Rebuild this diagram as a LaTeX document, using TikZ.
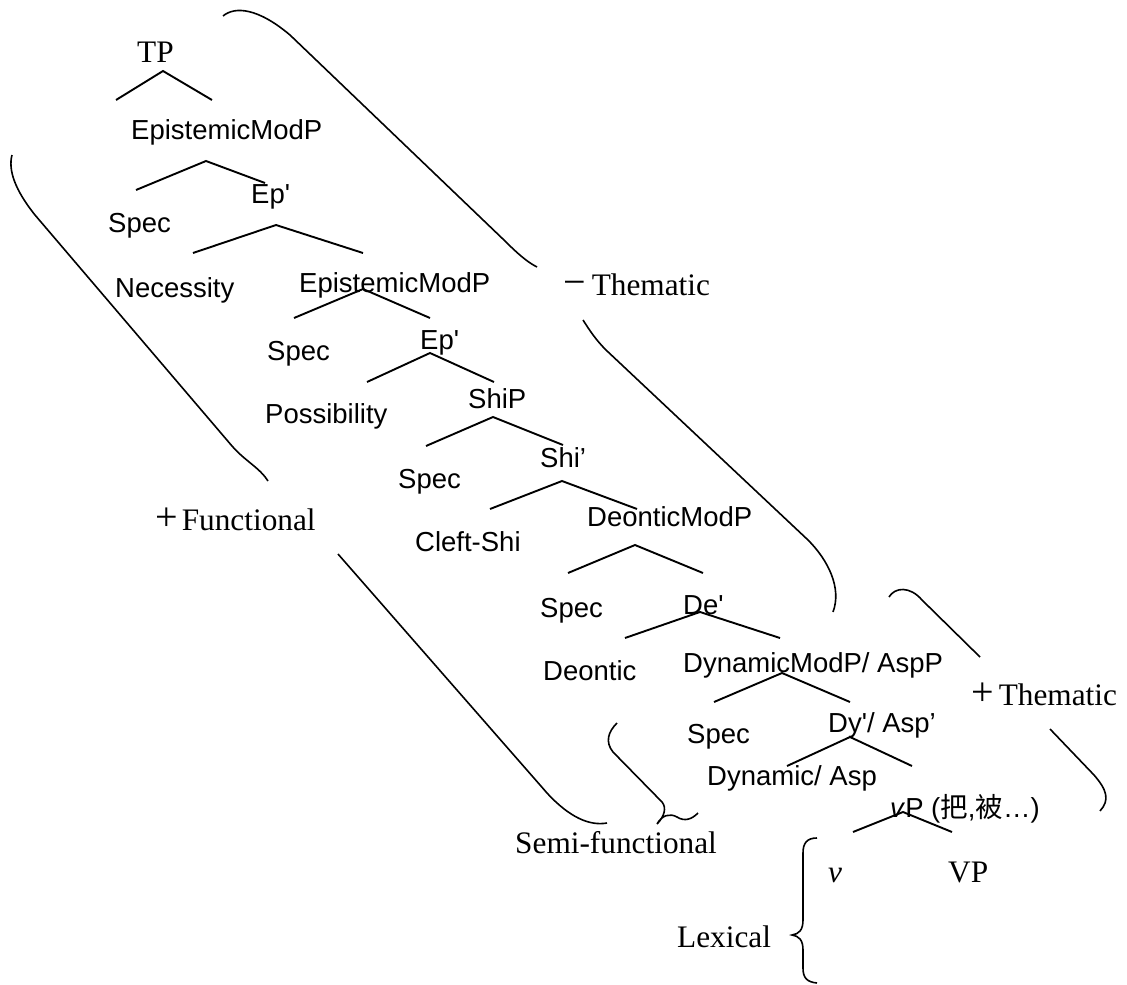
\documentclass[tikz,border=0pt]{standalone}
\usepackage{fontspec}
\setmainfont{Liberation Serif}
\setsansfont{Liberation Sans}
\newfontfamily\cjk{Noto Sans CJK SC}
\newcommand{\sq}{\textquotesingle}
\newcommand{\bigsign}[1]{{\fontsize{40}{40}\selectfont #1}}
\begin{document}
\begin{tikzpicture}[x=1pt,y=-1pt,
  sn/.style={font=\sffamily\fontsize{27.5}{30}\selectfont, inner sep=0pt, anchor=base west},
  rm/.style={font=\rmfamily\fontsize{31.3}{34}\selectfont, inner sep=0pt, anchor=base west},
  branch/.style={line width=1.9pt},
  bracket/.style={line width=1.6pt}]
\useasboundingbox (0,0) rectangle (1127,985);

% ---- labels ----
\node[rm] (tp)     at (137,62)  {TP};
\node[sn] (epm1)   at (131,139) {EpistemicModP};
\node[sn] (epb1)   at (251,203) {Ep\sq};
\node[sn] (spec1)  at (108,232) {Spec};
\node[sn] (nec)    at (115,297) {Necessity};
\node[sn] (epm2)   at (299,292) {EpistemicModP};
\node[sn] (spec2)  at (267,360) {Spec};
\node[sn] (epb2)   at (420,349) {Ep\sq};
\node[sn] (poss)   at (265,423) {Possibility};
\node[sn] (ship)   at (468,408) {ShiP};
\node[sn] (spec3)  at (398,488) {Spec};
\node[sn] (shib)   at (540,467) {Shi’};
\node[sn] (cleft)  at (415,551) {Cleft-Shi};
\node[sn] (deo)    at (587,526) {DeonticModP};
\node[sn] (spec4)  at (540,617) {Spec};
\node[sn] (deb)    at (683,614) {De\sq};
\node[sn] (deontic) at (543,680) {Deontic};
\node[sn] (dyn)    at (683,672) {DynamicModP/ AspP};
\node[sn] (spec5)  at (687,743) {Spec};
\node[sn] (dyb)    at (828,732) {Dy\sq/ Asp’};
\node[sn] (dynasp) at (707,785) {Dynamic/ Asp};
\node[sn] (vp)     at (890,817) {\textit{v}P ({\cjk 把},{\cjk 被}…)};
\node[rm] (v)      at (828,882) {\textit{v}};
\node[rm] (bigvp)  at (948,882) {VP};
\node[rm] (lex)    at (677,947) {Lexical};
\node[rm] (semi)   at (515,853) {Semi-functional};
\node[rm] (func)   at (155,530) {\bigsign{+}\hspace{4pt}Functional};
\node[rm] (mthem)  at (563,295) {\bigsign{−}\hspace{6pt}Thematic};
\node[rm] (pthem)  at (971,705) {\bigsign{+}\hspace{5pt}Thematic};

% ---- tree branches ----
\foreach \n/\ax/\ay/\lx/\ly/\rx/\ry in {
  t1/163/71/116/100/212/100,
  t2/206/161/136/190/265/183,
  t3/276/225/193/253/363/253,
  t4/363/289/294/318/430/318,
  t5/430/353/367/382/494/382,
  t6/493/417/426/446/563/445,
  t7/562/481/490/509/637/509,
  t8/635/545/568/573/703/573,
  t9/700/612/625/638/780/638,
  t10/782/673/714/702/850/702,
  t11/850/737/787/766/912/766,
  t12/903/812/853/832/952/832}{
  \coordinate (\n-a) at (\ax,\ay);
  \coordinate (\n-l) at (\lx,\ly);
  \coordinate (\n-r) at (\rx,\ry);
  \draw[branch] (\n-l) -- (\n-a) -- (\n-r);
}

% ---- brackets ----
% -Thematic, upper
\draw[bracket] (223,16) .. controls (235,6) and (258,8) .. (290,35) -- (505,241) .. controls (517,253) and (527,262) .. (537,267);
% -Thematic, lower
\draw[bracket] (583,320) .. controls (590,331) and (596,340) .. (606,350) -- (808,540) .. controls (828,560) and (842,588) .. (833,612);
% +Functional, upper
\draw[bracket] (12,155) .. controls (8,170) and (15,190) .. (35,215) -- (232,446) .. controls (245,461) and (260,468) .. (268,481);
% +Functional, lower
\draw[bracket] (338,554) -- (547,793) .. controls (570,818) and (590,826) .. (607,823);
% Semi-functional brace
\draw[bracket] (617,723) .. controls (608,732) and (605,742) .. (613,752) -- (662,802) .. controls (667,808) and (664,817) .. (657,824) .. controls (662,815) and (670,813) .. (677,817) .. controls (685,822) and (692,819) .. (698,813);
% +Thematic, upper
\draw[bracket] (889,597) .. controls (895,587) and (910,586) .. (922,600) -- (980,657);
% +Thematic, lower
\draw[bracket] (1050,729) -- (1094,775) .. controls (1107,790) and (1110,800) .. (1100,811);
% Lexical brace
\draw[bracket] (817,838) .. controls (807,838) and (803,843) .. (803,853) -- (803,920) .. controls (803,930) and (799,934) .. (792,935) .. controls (799,936) and (803,940) .. (803,950) -- (803,968) .. controls (803,978) and (807,982) .. (817,983);
\end{tikzpicture}
\end{document}
